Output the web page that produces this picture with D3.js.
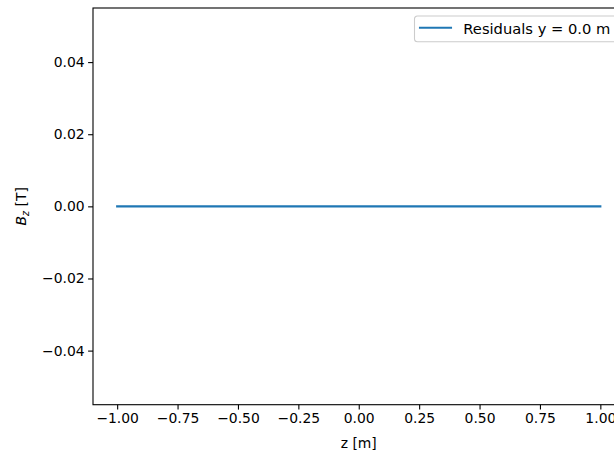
<!DOCTYPE html>
<meta charset="utf-8">
<script src="https://d3js.org/d3.v7.min.js"></script>
<style>
  body { margin: 0; background: #fff; }
  text { font-family: "DejaVu Sans", sans-serif; }
</style>
<body>
<svg id="chart"></svg>
</body>
<script>
// residuals along z at y = 0.0 m
var zValues = [-1.00, -0.75, -0.50, -0.25, 0.00, 0.25, 0.50, 0.75, 1.00];
var bzResiduals = [0, 0, 0, 0, 0, 0, 0, 0, 0];
var xTicks = [-1.00, -0.75, -0.50, -0.25, 0.00, 0.25, 0.50, 0.75, 1.00];
var yTicks = [-0.04, -0.02, 0.00, 0.02, 0.04];
var legendLabel = "Residuals y = 0.0 m";

var W = 614, H = 452;
var margin = {top: 8, right: -10.5, bottom: 47.3, left: 93};
var width = W - margin.left - margin.right,
    height = H - margin.top - margin.bottom;

var svg = d3.select("#chart")
    .attr("width", W)
    .attr("height", H)
  .append("g")
    .attr("transform", "translate(" + margin.left + "," + margin.top + ")");

var x = d3.scaleLinear().domain([-1.1, 1.1]).range([0, width]);
var y = d3.scaleLinear().domain([-0.055, 0.055]).range([height, 0]);

var fmtMinus = function(f) {
  return function(d) { return d3.format(f)(d).replace("-", "\u2212"); };
};

var xAxis = svg.append("g")
    .attr("transform", "translate(0," + height + ")")
    .call(d3.axisBottom(x).tickValues(xTicks).tickFormat(fmtMinus(".2f"))
      .tickSize(4.9).tickPadding(3.5));

var yAxis = svg.append("g")
    .call(d3.axisLeft(y).tickValues(yTicks).tickFormat(fmtMinus(".2f"))
      .tickSize(4.9).tickPadding(3.5));

[xAxis, yAxis].forEach(function(a) {
  a.select(".domain").remove();
  a.selectAll("line").attr("stroke", "#000").attr("stroke-width", 1.1);
  a.selectAll("text").attr("fill", "#000").style("font-size", "13.9px")
    .style("font-family", "'DejaVu Sans', sans-serif");
});

// spines
svg.append("rect")
    .attr("x", 0).attr("y", 0)
    .attr("width", width).attr("height", height)
    .attr("fill", "none")
    .attr("stroke", "#000")
    .attr("stroke-width", 1.1);

var data = zValues.map(function(z, i) { return {z: z, b: bzResiduals[i]}; });

svg.append("path")
    .datum(data)
    .attr("fill", "none")
    .attr("stroke", "#1f77b4")
    .attr("stroke-width", 2.1)
    .attr("stroke-linecap", "square")
    .attr("d", d3.line().x(function(d) { return x(d.z); }).y(function(d) { return y(d.b); }));

// axis labels
svg.append("text")
    .attr("x", width / 2)
    .attr("y", height + 43)
    .attr("text-anchor", "middle")
    .style("font-size", "13.9px")
    .text("z [m]");

var yl = svg.append("text")
    .attr("transform", "translate(" + (-67) + "," + (height / 2) + ") rotate(-90)")
    .attr("text-anchor", "middle")
    .style("font-size", "13.9px");
yl.append("tspan").style("font-style", "italic").text("B");
yl.append("tspan").attr("dy", 3).style("font-size", "9.7px").style("font-style", "italic").text("z");
yl.append("tspan").attr("dy", -3).text(" [T]");

// legend
var lg = svg.append("g").attr("transform", "translate(" + (414.5 - margin.left) + "," + (16 - margin.top) + ")");
lg.append("rect")
    .attr("width", 215).attr("height", 25.7)
    .attr("rx", 3)
    .attr("fill", "#fff").attr("fill-opacity", 0.8)
    .attr("stroke", "#cccccc").attr("stroke-width", 1.1);
lg.append("line")
    .attr("x1", 5.5).attr("x2", 36.5)
    .attr("y1", 11.7).attr("y2", 11.7)
    .attr("stroke", "#1f77b4").attr("stroke-width", 2.1)
    .attr("stroke-linecap", "square");
lg.append("text")
    .attr("x", 48.8).attr("y", 18.2)
    .style("font-size", "14.7px")
    .text(legendLabel);
</script>
